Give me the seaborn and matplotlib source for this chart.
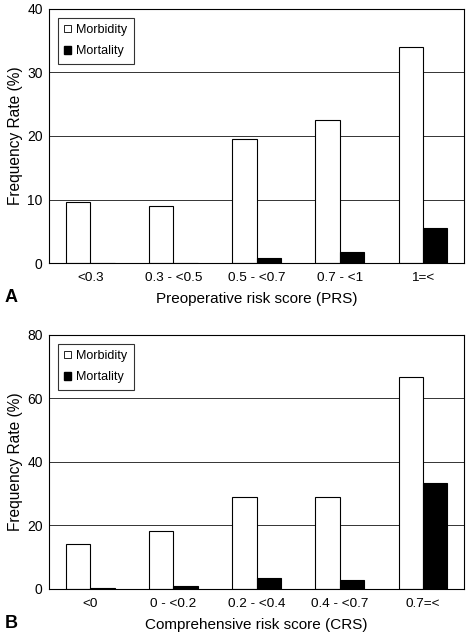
import matplotlib
matplotlib.use("Agg")
import matplotlib.pyplot as plt
from matplotlib.patches import Patch
import seaborn as sns
import pandas as pd
import numpy as np

# panel A - preoperative risk score
prs_groups = ["<0.3", "0.3 - <0.5", "0.5 - <0.7", "0.7 - <1", "1=<"]
prs_morbidity = [9.6, 9.0, 19.5, 22.5, 34.0]
prs_mortality = [0.0, 0.0, 0.8, 1.8, 5.6]

# panel B - comprehensive risk score
crs_groups = ["<0", "0 - <0.2", "0.2 - <0.4", "0.4 - <0.7", "0.7=<"]
crs_morbidity = [14.1, 18.4, 28.9, 28.9, 66.7]
crs_mortality = [0.2, 0.8, 3.5, 2.8, 33.4]

series = ["Morbidity", "Mortality"]

sns.set_style("white")
plt.rcParams['font.family'] = ['Liberation Sans', 'DejaVu Sans']
plt.rcParams['text.color'] = 'black'
plt.rcParams['axes.labelcolor'] = 'black'
plt.rcParams['xtick.labelcolor'] = 'black'
plt.rcParams['ytick.labelcolor'] = 'black'


def make_df(groups, morb, mort):
    return pd.DataFrame({
        'Group': groups * 2,
        'Series': [series[0]] * len(groups) + [series[1]] * len(groups),
        'Value': morb + mort,
    })


def draw_panel(ax, df, groups, ymax, step, xlabel, letter):
    sns.barplot(data=df, x='Group', y='Value', hue='Series', order=groups,
                hue_order=series, palette=['white', 'black'], width=0.58,
                edgecolor='black', linewidth=0.8, ax=ax, legend=False)
    ax.set_ylim(0, ymax)
    ax.set_xlim(-0.5, len(groups) - 0.5)
    ax.set_yticks(np.arange(0, ymax + 1, step))
    ax.yaxis.grid(True, color='#333333', linewidth=0.7)
    ax.set_axisbelow(True)
    for s in ax.spines.values():
        s.set_color('black')
        s.set_linewidth(0.8)
    # ticks at the group boundaries, labels at centers
    ax.set_xticks(np.arange(0.5, len(groups) - 0.5, 1), minor=True)
    ax.tick_params(axis='x', which='major', length=0, pad=6.5, labelsize=9.7, labelcolor='black')
    ax.tick_params(axis='x', which='minor', length=3, width=0.7, direction='out', color='#555555')
    ax.tick_params(axis='y', length=0, pad=4.5, labelsize=10, labelcolor='black')
    ax.set_xlabel(xlabel, fontsize=11, labelpad=6, color='black')
    ax.set_ylabel('Frequency Rate (%)', fontsize=11.2, labelpad=3, color='black')
    handles = [Patch(facecolor='white', edgecolor='black', linewidth=0.6),
               Patch(facecolor='black', edgecolor='black')]
    leg = ax.legend(handles, series, loc='upper left', bbox_to_anchor=(0.022, 0.965),
                    fontsize=9, frameon=True, fancybox=False, handlelength=0.55,
                    handleheight=0.55, handletextpad=0.4, borderpad=0.5,
                    labelspacing=0.75, borderaxespad=0)
    leg.get_frame().set_edgecolor('black')
    leg.get_frame().set_linewidth(0.8)
    ax.text(-0.107, -0.135, letter, transform=ax.transAxes, fontsize=13,
            fontweight='bold', ha='left', va='center', color='black')


fig = plt.figure(figsize=(4.66, 6.34), dpi=100)
ax_a = fig.add_axes([0.105, 0.585, 0.891, 0.401])
ax_b = fig.add_axes([0.105, 0.071, 0.891, 0.401])

draw_panel(ax_a, make_df(prs_groups, prs_morbidity, prs_mortality), prs_groups,
           40, 10, 'Preoperative risk score (PRS)', 'A')
draw_panel(ax_b, make_df(crs_groups, crs_morbidity, crs_mortality), crs_groups,
           80, 20, 'Comprehensive risk score (CRS)', 'B')

plt.savefig("out.png", dpi=100)
